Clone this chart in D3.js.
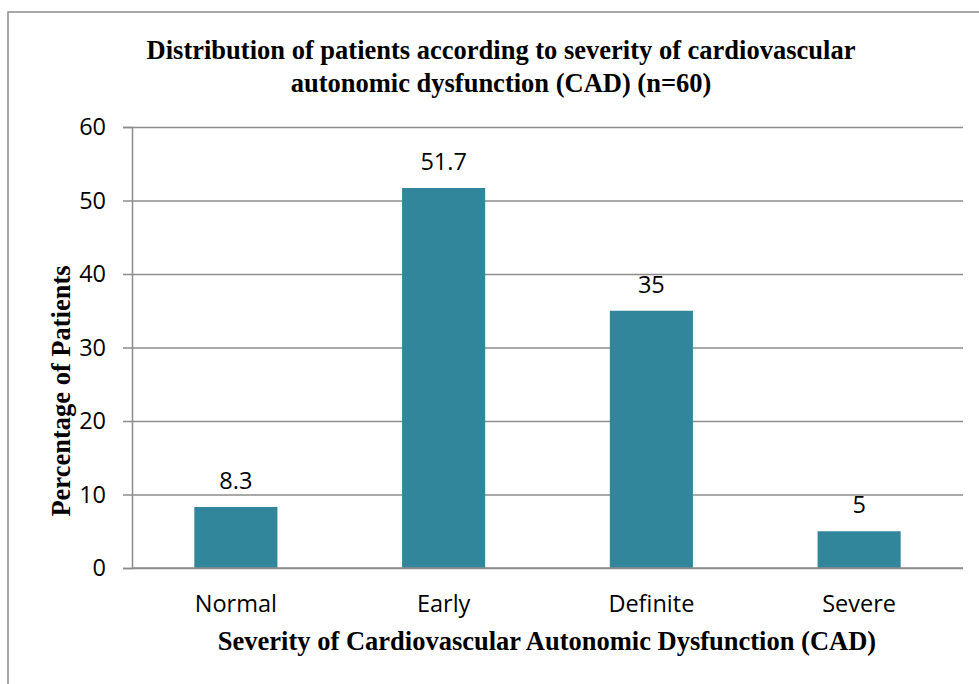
<!DOCTYPE html>
<html>
<head>
<meta charset="utf-8">
<script src="https://cdn.jsdelivr.net/npm/d3@7"></script>
<style>
  body { margin: 0; background: #fff; }
  .tick text { font-family: "Open Sans", sans-serif; font-size: 23.5px; fill: #000; }
  .label { font-family: "Open Sans", sans-serif; font-size: 23.5px; fill: #000; }
  .title { font-family: "Liberation Serif", serif; font-weight: bold; font-size: 26.5px; fill: #000; }
</style>
</head>
<body>
<div id="chart"></div>
<script>
const categories = ["Normal", "Early", "Definite", "Severe"];
const values = [8.3, 51.7, 35, 5];
const yTicks = [0, 10, 20, 30, 40, 50, 60];

const width = 979, height = 684,
    margin = {top: 127, bottom: 116, left: 132, right: 16},
    barColor = "#31869b",
    gridColor = "#8c8c8c";

const svg = d3.select("#chart")
    .append("svg")
    .attr("width", width)
    .attr("height", height);

// outer frame (runs off the right and bottom edges)
svg.append("rect")
    .attr("x", 8)
    .attr("y", 12)
    .attr("width", 1000)
    .attr("height", 700)
    .attr("fill", "none")
    .attr("stroke", gridColor)
    .attr("stroke-width", 1.5);

const xScale = d3.scaleBand()
    .domain(categories)
    .range([margin.left, width - margin.right])
    .paddingInner(0.6)
    .paddingOuter(0.3);

const yScale = d3.scaleLinear()
    .domain([0, 60])
    .range([height - margin.bottom, margin.top]);

// gridlines + left ticks
const yAxis = d3.axisLeft(yScale)
    .tickValues(yTicks)
    .tickSize(9)
    .tickPadding(17);

const gy = svg.append("g")
    .attr("class", "y-axis")
    .attr("transform", `translate(${margin.left}, 0)`)
    .call(yAxis);
gy.select(".domain").attr("stroke", gridColor).attr("stroke-width", 1.5);
gy.selectAll(".tick line").attr("stroke", gridColor).attr("stroke-width", 1.5);
gy.selectAll(".tick")
    .append("line")
    .attr("x1", 0)
    .attr("x2", width - margin.right - margin.left)
    .attr("stroke", gridColor)
    .attr("stroke-width", 1.5);

svg.selectAll("rect.bar")
    .data(categories)
    .join("rect")
    .attr("class", "bar")
    .attr("x", d => xScale(d))
    .attr("y", (d, i) => yScale(values[i]))
    .attr("width", xScale.bandwidth())
    .attr("height", (d, i) => yScale(0) - yScale(values[i]))
    .attr("fill", barColor);

// baseline drawn over bars
svg.append("line")
    .attr("x1", margin.left)
    .attr("x2", width - margin.right)
    .attr("y1", yScale(0))
    .attr("y2", yScale(0))
    .attr("stroke", gridColor)
    .attr("stroke-width", 1.5);

svg.selectAll("text.value")
    .data(categories)
    .join("text")
    .attr("class", "label value")
    .attr("text-anchor", "middle")
    .attr("x", d => xScale(d) + xScale.bandwidth() / 2)
    .attr("y", (d, i) => yScale(values[i]) - 18)
    .text((d, i) => values[i]);

const xAxis = d3.axisBottom(xScale).tickSize(0).tickPadding(27);
const gx = svg.append("g")
    .attr("class", "x-axis")
    .attr("transform", `translate(0, ${yScale(0)})`)
    .call(xAxis);
gx.select(".domain").remove();

svg.append("text")
    .attr("class", "title")
    .attr("text-anchor", "middle")
    .attr("x", 501)
    .attr("y", 59)
    .text("Distribution of patients according to severity of cardiovascular");
svg.append("text")
    .attr("class", "title")
    .attr("text-anchor", "middle")
    .attr("x", 501)
    .attr("y", 92)
    .text("autonomic dysfunction (CAD) (n=60)");

svg.append("text")
    .attr("class", "title")
    .attr("text-anchor", "middle")
    .attr("x", 547)
    .attr("y", 650)
    .text("Severity of Cardiovascular Autonomic Dysfunction (CAD)");

svg.append("text")
    .attr("class", "title")
    .attr("text-anchor", "middle")
    .attr("transform", "translate(70, 391) rotate(-90)")
    .text("Percentage of Patients");
</script>
</body>
</html>
